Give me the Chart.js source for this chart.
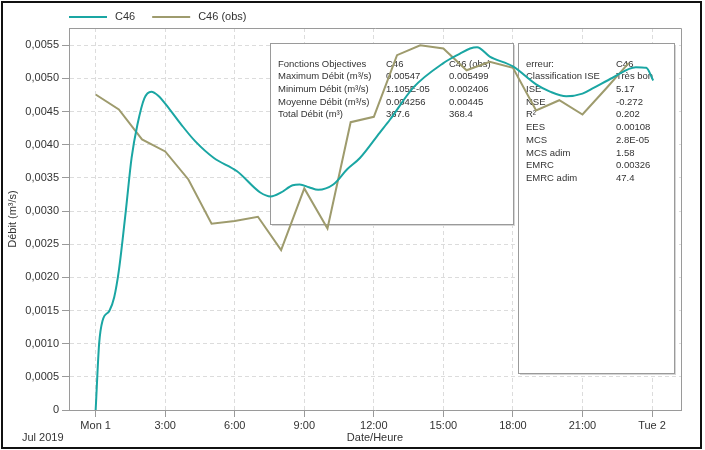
<!DOCTYPE html>
<html>
<head>
<meta charset="utf-8">
<title>Débit C46</title>
<script src="https://cdn.jsdelivr.net/npm/chart.js@4.4.1/dist/chart.umd.min.js"></script>
<style>
    body { margin: 0; background: #fff; }
    #wrap { width: 705px; height: 450px; }
</style>
</head>
<body>
<div id="wrap"><canvas id="debitChart"></canvas></div>
<script>
// hours since Mon 1 00:00
const simHours = [0, 0.15, 0.3, 0.6, 0.8, 1.0, 1.3, 1.55, 1.8, 2.1, 2.4, 2.7, 3.2, 3.7, 4.3, 5.1, 6.1, 7.1, 7.55, 8.0, 8.5, 8.8, 9.2, 9.6, 10.25, 10.85, 11.4, 12.25, 12.7, 13.7, 15.0, 15.7, 16.15, 16.45, 17.0, 18.0, 19.0, 19.6, 20.3, 21.0, 21.5, 22.3, 23.3, 23.75, 24.05];
const simDebit = [0, 0.0010, 0.00135, 0.00150, 0.00170, 0.00210, 0.00300, 0.00380, 0.00430, 0.00470, 0.00480, 0.00474, 0.00453, 0.00430, 0.00405, 0.00380, 0.00360, 0.00328, 0.00322, 0.00328, 0.00339, 0.00340, 0.00336, 0.00332, 0.00340, 0.00363, 0.00380, 0.00418, 0.00438, 0.00486, 0.00523, 0.00537, 0.00545, 0.00547, 0.00533, 0.00518, 0.00491, 0.00480, 0.00473, 0.00477, 0.00486, 0.00501, 0.00517, 0.00516, 0.00497];

const obsHours = [0, 1, 2, 3, 4, 5, 6, 7, 8, 9, 10, 11, 12, 13, 14, 15, 16, 17, 18, 19, 20, 21, 22, 23];
const obsDebit = [0.004757, 0.004531, 0.004079, 0.003898, 0.003476, 0.002809, 0.00285, 0.002914, 0.002411, 0.003341, 0.002738, 0.00434, 0.004421, 0.00535, 0.0055, 0.00545, 0.005123, 0.00525, 0.00516, 0.004516, 0.004671, 0.004456, 0.00484, 0.005235];

const xTickHours = [0, 3, 6, 9, 12, 15, 18, 21, 24];
const xTickLabels = ['Mon 1', '3:00', '6:00', '9:00', '12:00', '15:00', '18:00', '21:00', 'Tue 2'];
const yTicks = [0, 0.0005, 0.0010, 0.0015, 0.0020, 0.0025, 0.0030, 0.0035, 0.0040, 0.0045, 0.0050, 0.0055];

// text tables shown over the plot
const objRows = [
    ['Fonctions Objectives', 'C46', 'C46 (obs)'],
    ['Maximum Débit (m³/s)', '0.00547', '0.005499'],
    ['Minimum Débit (m³/s)', '1.105E-05', '0.002406'],
    ['Moyenne Débit (m³/s)', '0.004256', '0.00445'],
    ['Total Débit (m³)', '367.6', '368.4']
];
const errRows = [
    ['erreur:', 'C46'],
    ['Classification ISE', 'Très bon'],
    ['ISE', '5.17'],
    ['NSE', '-0.272'],
    ['R²', '0.202'],
    ['EES', '0.00108'],
    ['MCS', '2.8E-05'],
    ['MCS adim', '1.58'],
    ['EMRC', '0.00326'],
    ['EMRC adim', '47.4']
];

const FONT = '"Liberation Sans", Arial, sans-serif';
const TEXT = '#333';

function toPoints(xs, ys) {
    return xs.map((x, i) => ({ x: x, y: ys[i] }));
}

// draw one table box (white, with a light shadow)
function drawTable(ctx, box, rows, cols) {
    ctx.save();
    ctx.fillStyle = '#d6d6d6';
    ctx.fillRect(box.x + 2, box.y + 2, box.w, box.h);
    ctx.fillStyle = '#fff';
    ctx.fillRect(box.x, box.y, box.w, box.h);
    ctx.strokeStyle = '#9a9a9a';
    ctx.lineWidth = 1;
    ctx.strokeRect(box.x + 0.5, box.y + 0.5, box.w, box.h);
    ctx.fillStyle = TEXT;
    ctx.font = '9.5px ' + FONT;
    ctx.textBaseline = 'middle';
    ctx.textAlign = 'left';
    rows.forEach((row, r) => {
        row.forEach((cell, c) => {
            ctx.fillText(cell, cols[c], box.y + 21 + r * 12.7);
        });
    });
    ctx.restore();
}

const tablesPlugin = {
    id: 'tables',
    beforeDatasetsDraw(chart) {
        const ctx = chart.ctx;
        const a = chart.chartArea;
        // top and right edges of the plot frame
        ctx.save();
        ctx.strokeStyle = '#9a9a9a';
        ctx.lineWidth = 1;
        ctx.beginPath();
        ctx.moveTo(a.left, a.top + 0.5);
        ctx.lineTo(a.right + 0.5, a.top + 0.5);
        ctx.lineTo(a.right + 0.5, a.bottom);
        ctx.stroke();
        ctx.restore();

        drawTable(ctx, { x: 270, y: 43, w: 243, h: 181 }, objRows, [278, 386, 449]);
        drawTable(ctx, { x: 518, y: 43, w: 156, h: 330 }, errRows, [526, 616]);
    },
    afterDraw(chart) {
        const ctx = chart.ctx;
        ctx.save();
        // legend with line samples
        ctx.font = '11px ' + FONT;
        ctx.textBaseline = 'middle';
        ctx.textAlign = 'left';
        let x = 69;
        chart.data.datasets.forEach(ds => {
            ctx.strokeStyle = ds.borderColor;
            ctx.lineWidth = 2;
            ctx.beginPath();
            ctx.moveTo(x, 17);
            ctx.lineTo(x + 38, 17);
            ctx.stroke();
            ctx.fillStyle = TEXT;
            ctx.fillText(ds.label, x + 46, 17);
            x += 46 + ctx.measureText(ds.label).width + 17;
        });

        ctx.fillText('Jul 2019', 22, 438);

        // outer frame
        ctx.strokeStyle = '#111';
        ctx.lineWidth = 2;
        ctx.strokeRect(2, 2, 699, 446);
        ctx.restore();
    }
};

const ctx = document.getElementById('debitChart').getContext('2d');
new Chart(ctx, {
    type: 'line',
    data: {
        datasets: [
            {
                label: 'C46',
                data: toPoints(simHours, simDebit),
                borderColor: '#1aa6a3',
                borderWidth: 2,
                pointRadius: 0,
                tension: 0.35,
                cubicInterpolationMode: 'monotone'
            },
            {
                label: 'C46 (obs)',
                data: toPoints(obsHours, obsDebit),
                borderColor: '#9e9b6d',
                borderWidth: 2,
                pointRadius: 0,
                tension: 0
            }
        ]
    },
    options: {
        responsive: true,
        maintainAspectRatio: false,
        animation: false,
        layout: { padding: { top: 28, right: 24, left: 0, bottom: 0 } },
        plugins: {
            legend: { display: false },
            tooltip: { enabled: false }
        },
        scales: {
            x: {
                type: 'linear',
                min: -1.15,
                max: 25.25,
                afterBuildTicks: scale => {
                    scale.ticks = xTickHours.map(v => ({ value: v }));
                },
                afterFit: scale => { scale.height = 40; },
                ticks: {
                    color: TEXT,
                    font: { family: FONT, size: 11 },
                    padding: 2,
                    maxRotation: 0,
                    callback: v => xTickLabels[xTickHours.indexOf(v)]
                },
                grid: {
                    color: '#dcdcdc',
                    tickLength: 7,
                    tickColor: '#9a9a9a',
                    tickBorderDash: []
                },
                border: { color: '#9a9a9a', width: 1, dash: [4, 3] },
                title: {
                    display: true,
                    text: 'Date/Heure',
                    color: TEXT,
                    font: { family: FONT, size: 11 },
                    padding: { top: 0, bottom: 5 }
                }
            },
            y: {
                min: 0,
                max: 0.00576,
                afterBuildTicks: scale => {
                    scale.ticks = yTicks.map(v => ({ value: v }));
                },
                afterFit: scale => { scale.width = 69; },
                ticks: {
                    color: TEXT,
                    font: { family: FONT, size: 11 },
                    padding: 3,
                    callback: v => v === 0 ? '0' : v.toFixed(4).replace('.', ',')
                },
                grid: {
                    color: '#dcdcdc',
                    tickLength: 7,
                    tickColor: '#9a9a9a',
                    tickBorderDash: []
                },
                border: { color: '#9a9a9a', width: 1, dash: [4, 3] },
                title: {
                    display: true,
                    text: 'Débit (m³/s)',
                    color: TEXT,
                    font: { family: FONT, size: 11 },
                    padding: { top: 6, bottom: 0 }
                }
            }
        }
    },
    plugins: [tablesPlugin]
});
</script>
</body>
</html>
